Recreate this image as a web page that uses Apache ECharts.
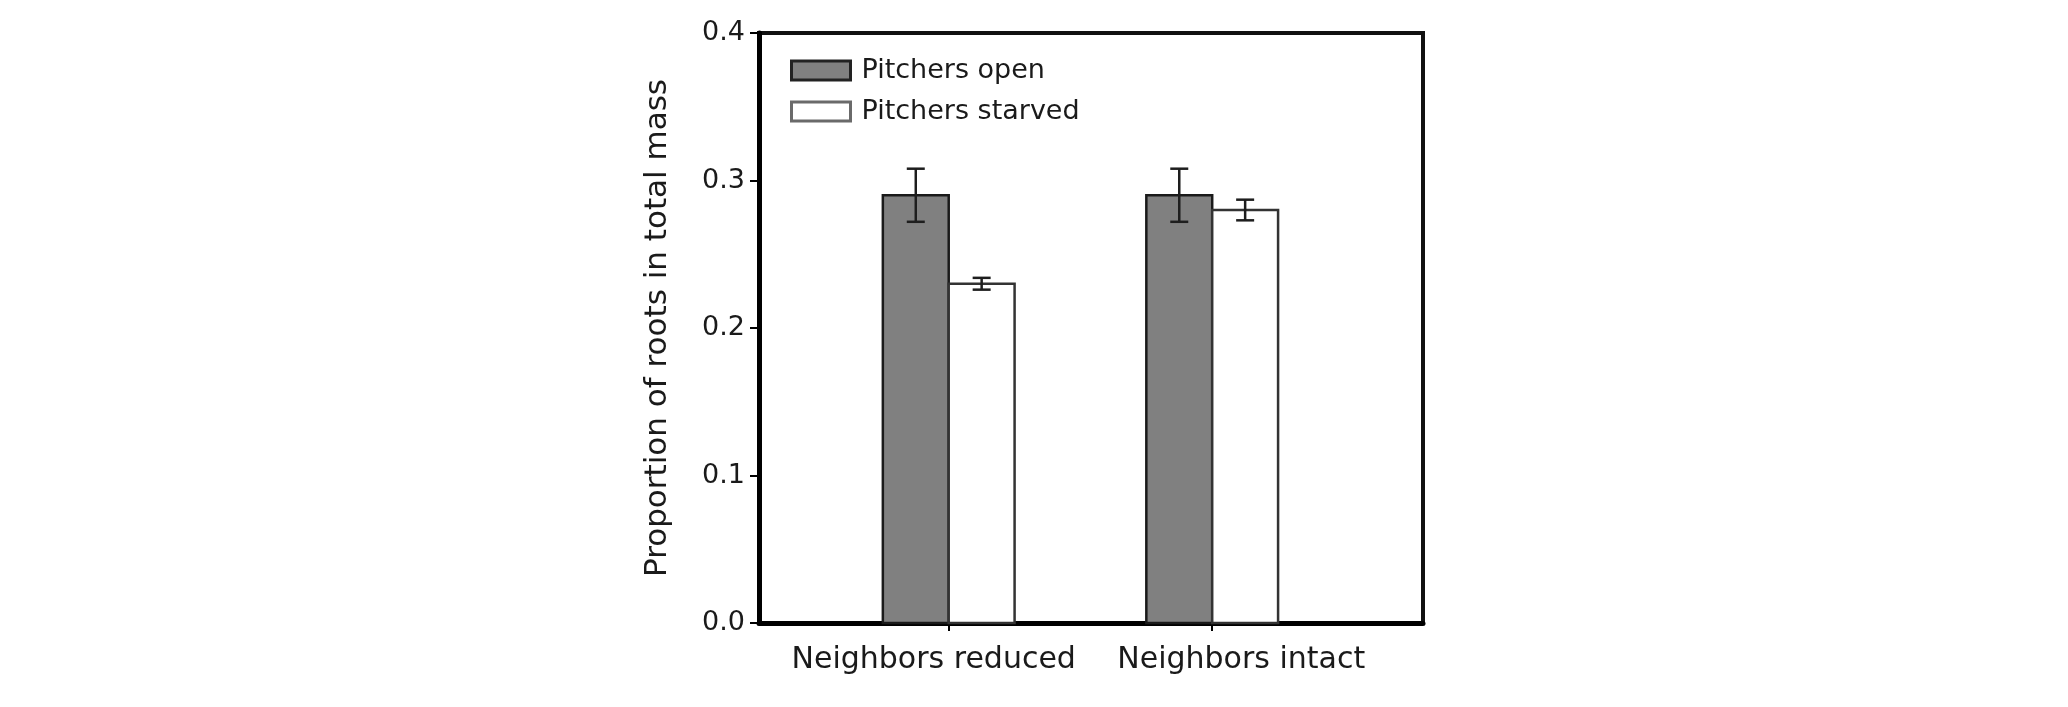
<!DOCTYPE html>
<html>
<head>
<meta charset="utf-8">
<script src="https://cdn.jsdelivr.net/npm/echarts@6/dist/echarts.min.js"></script>
<style>
  html, body { margin: 0; padding: 0; background: #fff; }
  #chart { width: 2068px; height: 707px; }
</style>
</head>
<body>
<div id="chart"></div>
<script>
// values
const categories = ['Neighbors reduced', 'Neighbors intact'];
const seriesNames = ['Pitchers open', 'Pitchers starved'];
const openMean = [0.29, 0.29];
const openErr = [0.018, 0.018];
const starvedMean = [0.23, 0.28];
const starvedErr = [0.004, 0.007];
const yTicks = [0, 0.1, 0.2, 0.3, 0.4];

const FONT = 'DejaVu Sans';
const BAR_W = 0.25; // in x units, one category step = 1

const makeData = (means, errs) => means.map((m, i) => [i + 1, m, errs[i]]);

// bar + error bar drawn through the axis scales
const barRenderer = (side, fill, stroke) => (params, api) => {
    const x = api.value(0);
    const mean = api.value(1);
    const err = api.value(2);
    const x0 = side < 0 ? x - BAR_W : x;
    const x1 = side < 0 ? x : x + BAR_W;
    const pTop = api.coord([x0, mean]);
    const pBot = api.coord([x1, 0]);
    const xc = api.coord([(x0 + x1) / 2, 0])[0];
    const yHi = api.coord([x, mean + err])[1];
    const yLo = api.coord([x, mean - err])[1];
    const cap = 9;
    const eStyle = { stroke: '#1e1e1e', lineWidth: 2.5 };
    return {
        type: 'group',
        children: [
            {
                type: 'rect',
                shape: { x: pTop[0], y: pTop[1], width: pBot[0] - pTop[0], height: pBot[1] - pTop[1] },
                style: { fill: fill, stroke: stroke, lineWidth: 2.5 }
            },
            { type: 'line', shape: { x1: xc, y1: yHi, x2: xc, y2: yLo }, style: eStyle },
            { type: 'line', shape: { x1: xc - cap, y1: yHi, x2: xc + cap, y2: yHi }, style: eStyle },
            { type: 'line', shape: { x1: xc - cap, y1: yLo, x2: xc + cap, y2: yLo }, style: eStyle }
        ]
    };
};

let Chart = echarts.init(document.getElementById('chart'));

Chart.setOption({
    animation: false,
    textStyle: { fontFamily: FONT },
    grid: {
        left: 759, right: 645, top: 33, bottom: 84,
        show: true, borderColor: '#111', borderWidth: 4, backgroundColor: '#fff'
    },
    legend: {
        orient: 'vertical',
        left: 785, top: 52,
        itemWidth: 59, itemHeight: 19, itemGap: 14,
        textStyle: { fontFamily: FONT, fontSize: 27, color: '#1a1a1a', padding: [0, 0, 0, 6] },
        data: [
            { name: seriesNames[0], icon: 'rect', itemStyle: { color: '#808080', borderColor: '#222', borderWidth: 3 } },
            { name: seriesNames[1], icon: 'rect', itemStyle: { color: '#fff', borderColor: '#6a6a6a', borderWidth: 3 } }
        ]
    },
    xAxis: {
        type: 'value',
        min: 0.28, max: 2.8,
        splitLine: { show: false },
        axisLine: { lineStyle: { color: '#000', width: 5 } },
        axisTick: { customValues: [1, 2], length: 8, lineStyle: { color: '#000', width: 2 } },
        axisLabel: {
            customValues: [1, 2],
            margin: 22,
            formatter: (v) => {
                const i = Math.round(v) - 1;
                return i === 0 ? '{a|' + categories[0] + '}' : '{b|' + categories[1] + '}';
            },
            rich: {
                a: { fontFamily: FONT, fontSize: 30, color: '#1a1a1a', padding: [0, 30, 0, 0] },
                b: { fontFamily: FONT, fontSize: 30, color: '#1a1a1a', padding: [0, 0, 0, 58] }
            }
        }
    },
    yAxis: {
        type: 'value',
        min: 0, max: 0.4, interval: 0.1,
        name: 'Proportion of roots in total mass',
        nameLocation: 'middle',
        nameGap: 86,
        nameTextStyle: { fontFamily: FONT, fontSize: 31, color: '#1a1a1a' },
        splitLine: { show: false },
        axisLine: { show: true, lineStyle: { color: '#000', width: 5 } },
        axisTick: { show: true, length: 9, lineStyle: { color: '#000', width: 2 } },
        axisLabel: {
            margin: 14,
            fontFamily: FONT, fontSize: 27, color: '#1a1a1a',
            formatter: (v) => yTicks.includes(+v.toFixed(1)) ? v.toFixed(1) : ''
        }
    },
    series: [
        {
            name: seriesNames[0],
            type: 'custom',
            renderItem: barRenderer(-1, '#808080', '#1a1a1a'),
            encode: { x: 0, y: 1 },
            data: makeData(openMean, openErr),
            z: 3
        },
        {
            name: seriesNames[1],
            type: 'custom',
            renderItem: barRenderer(1, '#ffffff', '#333'),
            encode: { x: 0, y: 1 },
            data: makeData(starvedMean, starvedErr),
            z: 3
        }
    ]
});
</script>
</body>
</html>
